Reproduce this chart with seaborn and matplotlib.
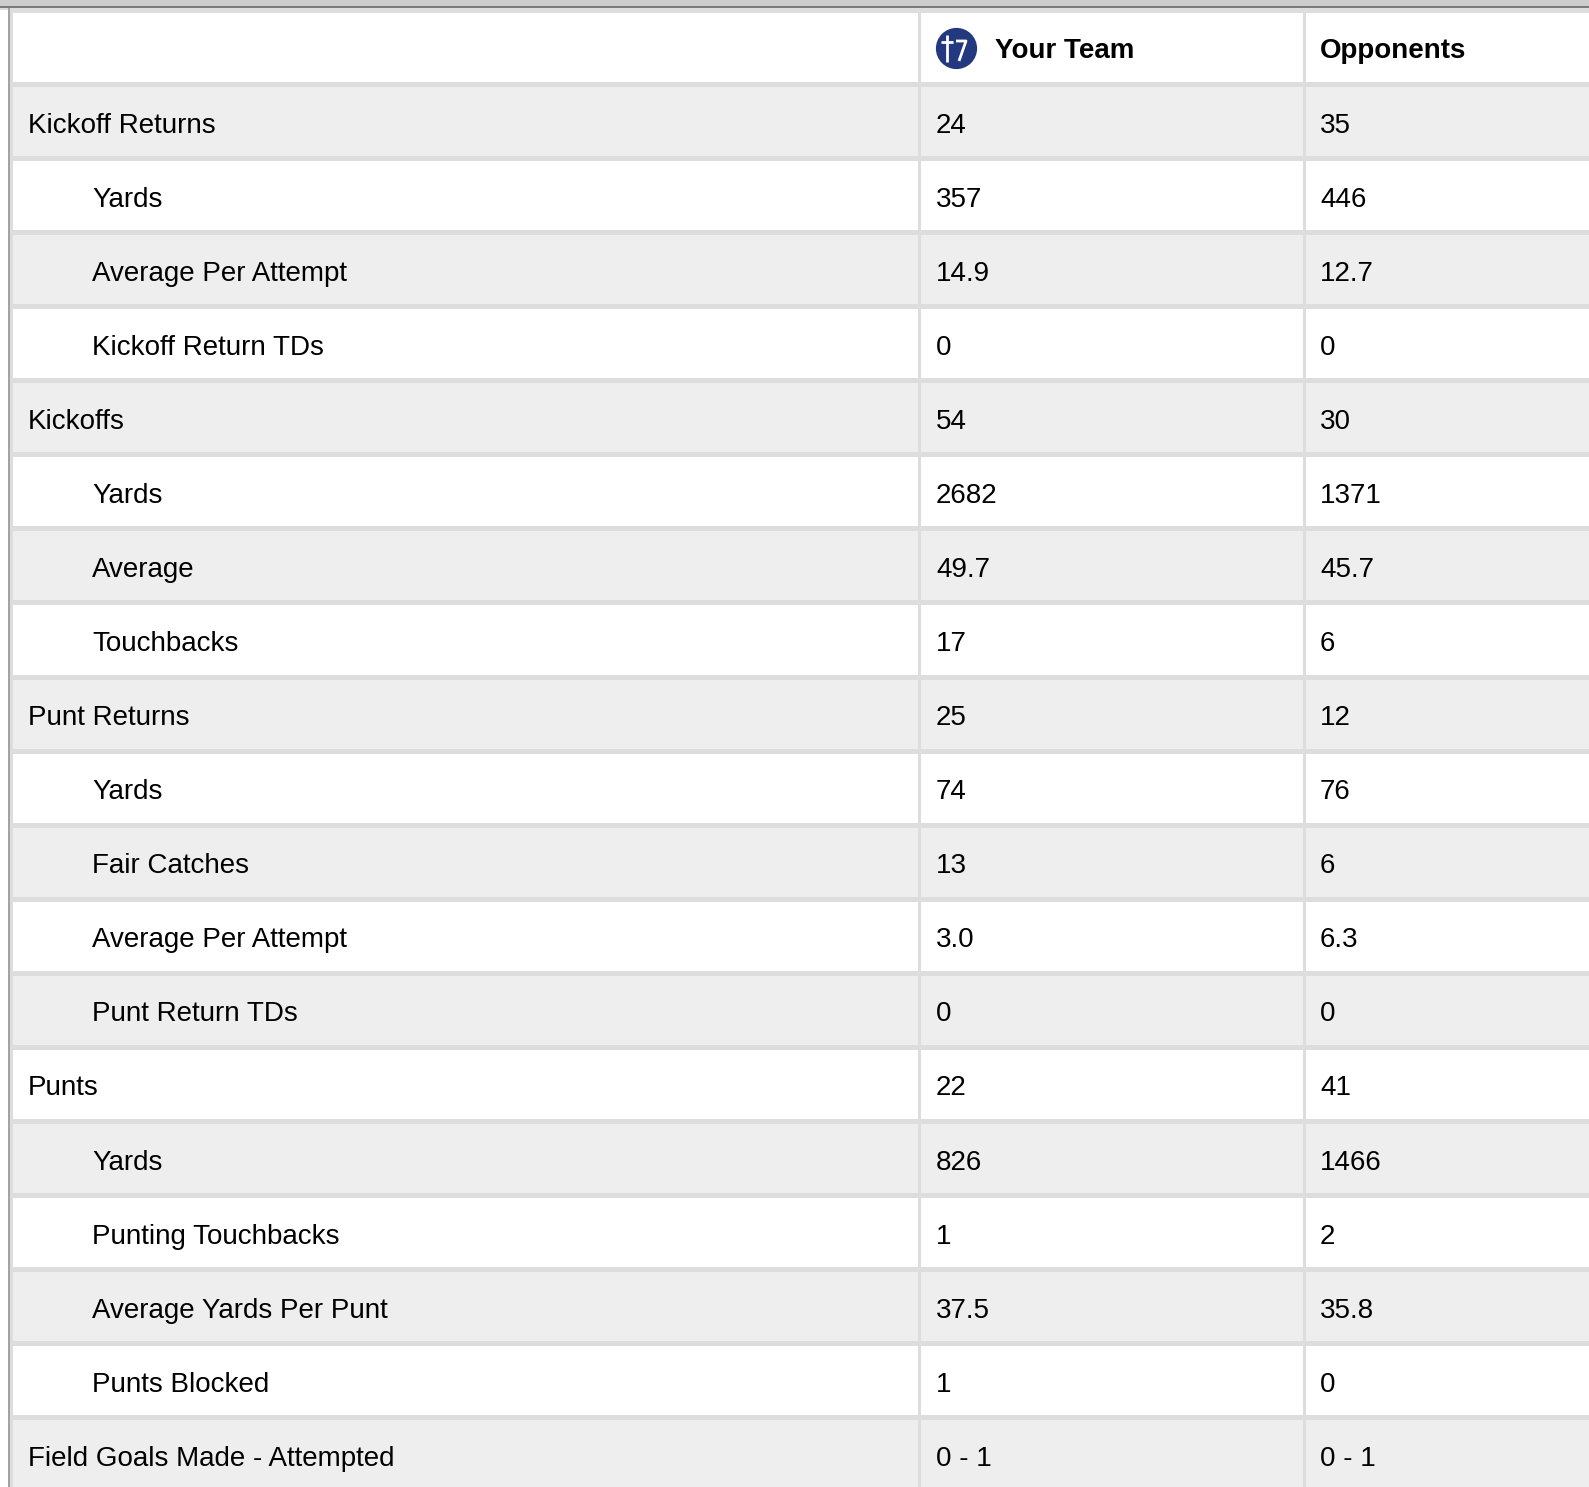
import numpy as np
import matplotlib.pyplot as plt
import seaborn as sns
from matplotlib.colors import ListedColormap

# Datos de la tabla
headers = ['', 'Your Team', 'Opponents']
labels = ['Kickoff Returns', 'Yards', 'Average Per Attempt', 'Kickoff Return TDs',
          'Kickoffs', 'Yards', 'Average', 'Touchbacks',
          'Punt Returns', 'Yards', 'Fair Catches', 'Average Per Attempt', 'Punt Return TDs',
          'Punts', 'Yards', 'Punting Touchbacks', 'Average Yards Per Punt', 'Punts Blocked',
          'Field Goals Made - Attempted']
sub_row = [0, 1, 1, 1, 0, 1, 1, 1, 0, 1, 1, 1, 1, 0, 1, 1, 1, 1, 0]
your_team = ['24', '357', '14.9', '0', '54', '2682', '49.7', '17', '25', '74', '13',
             '3.0', '0', '22', '826', '1', '37.5', '1', '0 - 1']
opponents = ['35', '446', '12.7', '0', '30', '1371', '45.7', '6', '12', '76', '6',
             '6.3', '0', '41', '1466', '2', '35.8', '0', '0 - 1']

# Geometria (pixeles de la imagen)
W_PX, H_PX = 1589, 1487
TOP = 10
ROW_H = 74.06
MESH_W = 1600
FONT = 'Liberation Sans'
TXT = '#000000'


def px(p):
    return (p - TOP) / MESH_W


def py(p):
    return (p - TOP) / ROW_H


sns.set_style('white')
plt.rcParams['font.family'] = [FONT, 'DejaVu Sans']

fig = plt.figure(figsize=(W_PX / 100, H_PX / 100), dpi=100)
ax = fig.add_axes([0, 0, 1, 1])

# Franjas: cabecera blanca y filas alternas gris / blanco
stripe = np.array([0] + [1 if i % 2 == 0 else 0 for i in range(len(labels))])
sns.heatmap(stripe[:, None], ax=ax, cmap=ListedColormap(['#ffffff', '#eeeeee']),
            vmin=0, vmax=1, cbar=False, linewidths=2.2, linecolor='#dddddd',
            xticklabels=False, yticklabels=False)

ax.set_xlim(px(0), px(W_PX))
ax.set_ylim(py(H_PX), py(0))
ax.axis('off')

# Banda superior y borde izquierdo
ax.axhspan(py(0), py(6), color='#cccccc', zorder=5, lw=0)
ax.axhspan(py(6), py(7.5), color='#7a7a7a', zorder=5, lw=0)
ax.axhspan(py(7.5), py(10), color='#dddddd', zorder=4, lw=0)
ax.fill_betweenx([py(7.5), py(H_PX)], px(8), px(10), color='#a3a3a3', zorder=5, lw=0)

# Separadores de columnas
ax.vlines([px(918.5), px(1303.5)], 0, len(labels) + 1, color='#dddddd', lw=2.2, zorder=3)

col_x = [28, 936, 1320]
fs = 20

# Cabecera
ax.text(px(995), 0.645, headers[1], fontsize=fs, fontweight='bold', va='baseline',
        color=TXT, family=FONT, zorder=6)
ax.text(px(col_x[2]), 0.645, headers[2], fontsize=fs, fontweight='bold', va='baseline',
        color=TXT, family=FONT, zorder=6)

# Logo
ax.scatter([px(956)], [py(48)], s=880, color='#22397f', zorder=6, lw=0)
ax.plot([px(947), px(947)], [py(35), py(62)], color='white', lw=2.0, zorder=7,
        solid_capstyle='butt')
ax.plot([px(941), px(953)], [py(42), py(42)], color='white', lw=2.0, zorder=7,
        solid_capstyle='butt')
ax.plot([px(956), px(966), px(959)], [py(41), py(41), py(61)], color='white', lw=2.0,
        zorder=7, solid_capstyle='butt')

# Filas
for i, lab in enumerate(labels):
    y = i + 1 + 0.657
    lx = 92 if sub_row[i] else col_x[0]
    ax.text(px(lx), y, lab, fontsize=fs, va='baseline', color=TXT, family=FONT, zorder=6)
    ax.text(px(col_x[1]), y, your_team[i], fontsize=fs, va='baseline', color=TXT,
            family=FONT, zorder=6)
    ax.text(px(col_x[2]), y, opponents[i], fontsize=fs, va='baseline', color=TXT,
            family=FONT, zorder=6)

plt.savefig('out.png', dpi=100)
plt.close()
